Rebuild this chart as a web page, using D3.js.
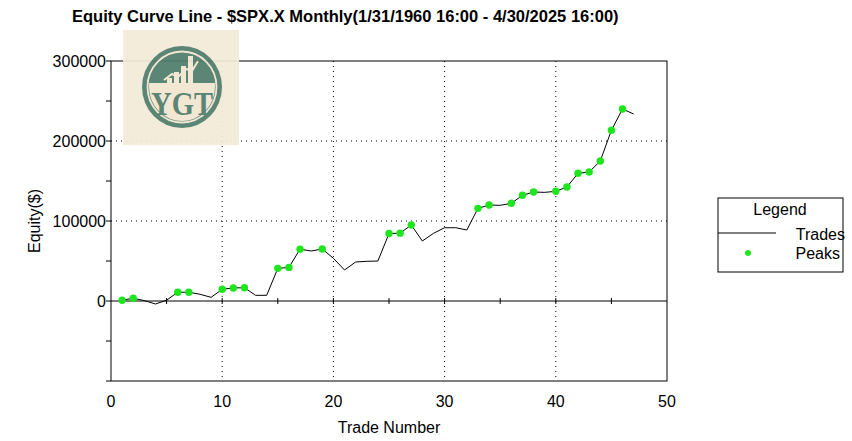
<!DOCTYPE html>
<html>
<head>
<meta charset="utf-8">
<script src="https://cdn.jsdelivr.net/npm/d3@7"></script>
<style>
  body { margin: 0; background: #fff; }
  svg { display: block; font-family: "Liberation Sans", Arial, sans-serif; }
</style>
</head>
<body>
<svg id="chart"></svg>
<script>
const width = 852;
const height = 441;

// trade numbers and equity after each trade
const trades = d3.range(1, 48);
const equity = [
  1000, 3400, 500, -3750, 1000, 10900, 11000, 8400, 4600, 14600,
  16300, 16600, 7100, 7100, 40800, 42000, 64800, 62500, 65000, 53400,
  38750, 48750, 49600, 50000, 84300, 84800, 95000, 75000, 84600, 91600,
  91600, 88750, 115800, 120000, 119600, 122100, 132100, 136250, 135800, 137100,
  142500, 159600, 161250, 175000, 213400, 240000, 233750
];
// trades that made a new equity high
const peakTrades = [1, 2, 6, 7, 10, 11, 12, 15, 16, 17, 19, 25, 26, 27, 33, 34,
  36, 37, 38, 40, 41, 42, 43, 44, 45, 46];

const xTicks = [0, 10, 20, 30, 40, 50];
const yLabels = [0, 100000, 200000, 300000];
const yTicks = [-100000, -50000, 0, 50000, 100000, 150000, 200000, 250000, 300000];
const zeroTicks = [5, 10, 15, 20, 25, 30, 35, 40, 45];

const legendItems = ['Trades', 'Peaks'];

const margin = { top: 61, right: 185, bottom: 60, left: 111 };
const plotW = width - margin.left - margin.right;
const plotH = height - margin.top - margin.bottom;

const svg = d3.select('#chart')
  .attr('width', width)
  .attr('height', height);

const x = d3.scaleLinear().domain([0, 50]).range([0, plotW]);
const y = d3.scaleLinear().domain([-100000, 300000]).range([plotH, 0]);

const g = svg.append('g')
  .attr('transform', `translate(${margin.left},${margin.top})`);

// title
svg.append('text')
  .attr('x', 72)
  .attr('y', 22)
  .attr('font-size', 16.5)
  .attr('font-weight', 'bold')
  .text('Equity Curve Line - $SPX.X Monthly(1/31/1960 16:00 - 4/30/2025 16:00)');

// grid
g.selectAll('.vgrid')
  .data(xTicks.slice(1, -1))
  .enter()
  .append('line')
  .attr('x1', d => x(d)).attr('x2', d => x(d))
  .attr('y1', 0).attr('y2', plotH)
  .attr('stroke', '#000')
  .attr('stroke-width', 1)
  .attr('stroke-dasharray', '1,4');

g.selectAll('.hgrid')
  .data([100000, 200000])
  .enter()
  .append('line')
  .attr('x1', 0).attr('x2', plotW)
  .attr('y1', d => y(d)).attr('y2', d => y(d))
  .attr('stroke', '#000')
  .attr('stroke-width', 1)
  .attr('stroke-dasharray', '1,4');

// zero line with small ticks
g.append('line')
  .attr('x1', 0).attr('x2', plotW)
  .attr('y1', y(0)).attr('y2', y(0))
  .attr('stroke', '#000');

g.selectAll('.ztick')
  .data(zeroTicks)
  .enter()
  .append('line')
  .attr('x1', d => x(d)).attr('x2', d => x(d))
  .attr('y1', y(0) - 3).attr('y2', y(0) + 3)
  .attr('stroke', '#000');

// frame
g.append('rect')
  .attr('width', plotW)
  .attr('height', plotH)
  .attr('fill', 'none')
  .attr('stroke', '#000');

// y ticks and labels
g.selectAll('.ytick')
  .data(yTicks)
  .enter()
  .append('line')
  .attr('x1', -5).attr('x2', 0)
  .attr('y1', d => y(d)).attr('y2', d => y(d))
  .attr('stroke', '#000');

g.selectAll('.ylabel')
  .data(yLabels)
  .enter()
  .append('text')
  .attr('x', -5)
  .attr('y', d => y(d))
  .attr('dy', '0.35em')
  .attr('text-anchor', 'end')
  .attr('font-size', 16)
  .text(d => d);

g.selectAll('.xlabel')
  .data(xTicks)
  .enter()
  .append('text')
  .attr('x', d => x(d))
  .attr('y', plotH + 26)
  .attr('text-anchor', 'middle')
  .attr('font-size', 16)
  .text(d => d);

svg.append('text')
  .attr('x', margin.left + x(25))
  .attr('y', 433)
  .attr('text-anchor', 'middle')
  .attr('font-size', 16)
  .text('Trade Number');

svg.append('text')
  .attr('transform', `translate(40,${margin.top + y(100000)}) rotate(-90)`)
  .attr('text-anchor', 'middle')
  .attr('font-size', 16)
  .text('Equity($)');

// equity line
const line = d3.line()
  .x((d, i) => x(trades[i]))
  .y(d => y(d));

g.append('path')
  .datum(equity)
  .attr('d', line)
  .attr('fill', 'none')
  .attr('stroke', '#000')
  .attr('stroke-width', 1);

g.selectAll('.peak')
  .data(peakTrades)
  .enter()
  .append('circle')
  .attr('cx', d => x(d))
  .attr('cy', d => y(equity[d - 1]))
  .attr('r', 3.7)
  .attr('fill', '#1de61d');

// logo
const logo = svg.append('g').attr('opacity', 0.93);
logo.append('rect')
  .attr('x', 123).attr('y', 30)
  .attr('width', 116).attr('height', 115)
  .attr('fill', '#f4ebd8');
logo.append('ellipse')
  .attr('cx', 182).attr('cy', 87)
  .attr('rx', 40).attr('ry', 41)
  .attr('fill', '#4f7c6b');
logo.append('ellipse')
  .attr('cx', 182).attr('cy', 87)
  .attr('rx', 34.5).attr('ry', 35.5)
  .attr('fill', 'none')
  .attr('stroke', '#f2e6cf')
  .attr('stroke-width', 1.8);
const clip = logo.append('clipPath').attr('id', 'lowerHalf');
clip.append('rect').attr('x', 140).attr('y', 83).attr('width', 90).attr('height', 50);
logo.append('ellipse')
  .attr('cx', 182).attr('cy', 87)
  .attr('rx', 33).attr('ry', 34)
  .attr('fill', '#f2e6cf')
  .attr('clip-path', 'url(#lowerHalf)');
logo.selectAll('.bar')
  .data([[167, 78, 5], [174, 72, 5], [181, 66, 5], [188, 56, 5]])
  .enter()
  .append('rect')
  .attr('x', d => d[0]).attr('y', d => d[1])
  .attr('width', d => d[2]).attr('height', d => 83 - d[1])
  .attr('fill', '#f2e6cf');
logo.append('path')
  .attr('d', 'M164,80 L172,74 L178,77 L186,69 L192,71 L198,61')
  .attr('fill', 'none')
  .attr('stroke', '#f2e6cf')
  .attr('stroke-width', 2);
logo.append('text')
  .attr('x', 182).attr('y', 115)
  .attr('text-anchor', 'middle')
  .attr('font-family', '"Liberation Serif", "DejaVu Serif", serif')
  .attr('font-weight', 'bold')
  .attr('font-size', 34)
  .attr('textLength', 62)
  .attr('lengthAdjust', 'spacingAndGlyphs')
  .attr('fill', '#4f7c6b')
  .text('YGT');

// legend
const legend = svg.append('g');
legend.append('rect')
  .attr('x', 718).attr('y', 198)
  .attr('width', 125).attr('height', 74)
  .attr('fill', '#fff')
  .attr('stroke', '#000');
legend.append('text')
  .attr('x', 780).attr('y', 215)
  .attr('text-anchor', 'middle')
  .attr('font-size', 16)
  .text('Legend');
legend.append('line')
  .attr('x1', 718).attr('x2', 776)
  .attr('y1', 233).attr('y2', 233)
  .attr('stroke', '#000');
legend.append('circle')
  .attr('cx', 748).attr('cy', 253)
  .attr('r', 3)
  .attr('fill', '#1de61d');
legend.selectAll('.ltext')
  .data(legendItems)
  .enter()
  .append('text')
  .attr('x', (d, i) => i === 0 ? 845 : 840)
  .attr('y', (d, i) => 240 + i * 19)
  .attr('text-anchor', 'end')
  .attr('font-size', 16)
  .text(d => d);
</script>
</body>
</html>
